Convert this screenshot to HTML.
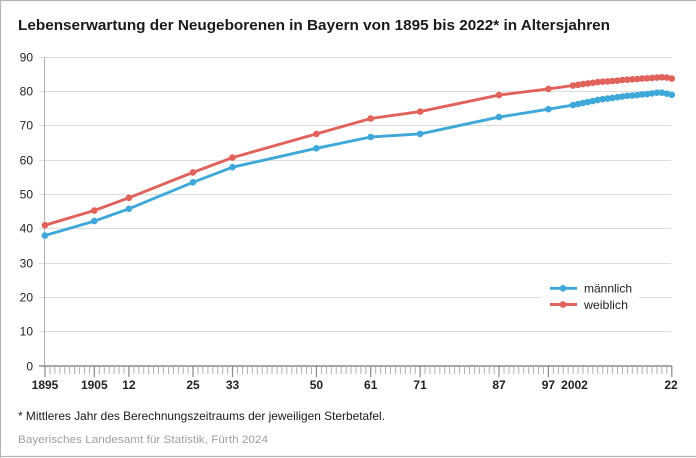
<!DOCTYPE html>
<html><head><meta charset="utf-8"><style>
html,body{margin:0;padding:0;background:#fff;}
svg{display:block;}
text{font-family:"Liberation Sans",Arial,sans-serif;}
</style></head><body>
<svg width="696" height="458" viewBox="0 0 696 458" xmlns="http://www.w3.org/2000/svg">
<rect x="0" y="0" width="696" height="458" fill="#fff"/>
<path d="M0.5,458 V0.5 H696 M0,456.5 H696" fill="none" stroke="#b5b5b5" stroke-width="1.2"/>
<text x="18" y="30" font-size="15" font-weight="bold" fill="#1a1a1a" textLength="592" lengthAdjust="spacingAndGlyphs">Lebenserwartung der Neugeborenen in Bayern von 1895 bis 2022* in Altersjahren</text>
<g stroke="#dcdcdc" stroke-width="1">
<line x1="39" y1="57.5" x2="671" y2="57.5"/>
<line x1="39" y1="91.5" x2="671" y2="91.5"/>
<line x1="39" y1="125.5" x2="671" y2="125.5"/>
<line x1="39" y1="160.5" x2="671" y2="160.5"/>
<line x1="39" y1="194.5" x2="671" y2="194.5"/>
<line x1="39" y1="228.5" x2="671" y2="228.5"/>
<line x1="39" y1="263.5" x2="671" y2="263.5"/>
<line x1="39" y1="297.5" x2="671" y2="297.5"/>
<line x1="39" y1="331.5" x2="671" y2="331.5"/>
</g>
<line x1="44.5" y1="57" x2="44.5" y2="366" stroke="#b0b0b0" stroke-width="1"/>
<g font-size="12" fill="#222" text-anchor="end">
<text x="33" y="61.5">90</text>
<text x="33" y="95.5">80</text>
<text x="33" y="129.5">70</text>
<text x="33" y="164.5">60</text>
<text x="33" y="198.5">50</text>
<text x="33" y="232.5">40</text>
<text x="33" y="267.5">30</text>
<text x="33" y="301.5">20</text>
<text x="33" y="335.5">10</text>
<text x="33" y="370.5">0</text>
</g>
<line x1="39" y1="366" x2="672" y2="366" stroke="#8a8a8a" stroke-width="1.5"/>
<line x1="44.6" y1="370" x2="673" y2="370" stroke="#a8a8a8" stroke-width="8" stroke-dasharray="0.9 4.035"/>
<g stroke="#8a8a8a" stroke-width="1.2">
<line x1="45" y1="366" x2="45" y2="377"/>
<line x1="94.3" y1="366" x2="94.3" y2="377"/>
<line x1="128.9" y1="366" x2="128.9" y2="377"/>
<line x1="193" y1="366" x2="193" y2="377"/>
<line x1="232.5" y1="366" x2="232.5" y2="377"/>
<line x1="316.4" y1="366" x2="316.4" y2="377"/>
<line x1="370.7" y1="366" x2="370.7" y2="377"/>
<line x1="420.1" y1="366" x2="420.1" y2="377"/>
<line x1="499" y1="366" x2="499" y2="377"/>
<line x1="548.4" y1="366" x2="548.4" y2="377"/>
<line x1="671.8" y1="366" x2="671.8" y2="377"/>
</g>
<g font-size="12" font-weight="bold" fill="#222" text-anchor="middle">
<text x="45" y="389">1895</text>
<text x="94.3" y="389">1905</text>
<text x="128.9" y="389">12</text>
<text x="193" y="389">25</text>
<text x="232.5" y="389">33</text>
<text x="316.4" y="389">50</text>
<text x="370.7" y="389">61</text>
<text x="420.1" y="389">71</text>
<text x="499" y="389">87</text>
<text x="548.4" y="389">97</text>
<text x="574.5" y="389">2002</text>
<text x="671" y="389">22</text>
</g>
<rect x="541" y="280" width="98" height="34" fill="#fff"/>
<polyline fill="none" stroke="#e0625b" stroke-width="2.9" stroke-linejoin="round" points="45,225.2 94.3,210.5 128.9,197.8 193,172.4 232.5,157.6 316.4,133.9 370.7,118.5 420.1,111.6 499,95.1 548.4,88.9 573,85.5 578,84.8 582.9,84.1 587.9,83.4 592.8,82.8 597.7,82.1 602.6,81.7 607.6,81.4 612.5,81 617.5,80.7 622.4,80 627.3,79.7 632.3,79.3 637.2,79 642.1,78.6 647.1,78.3 652,77.9 657,77.6 661.9,77.3 666.8,77.6 671.8,78.6"/>
<polyline fill="none" stroke="#3ea9d9" stroke-width="2.9" stroke-linejoin="round" points="45,235.5 94.3,221.1 128.9,208.8 193,182.3 232.5,167.2 316.4,148.3 370.7,137 420.1,133.9 499,117.1 548.4,109.2 573,105.1 578,104 582.9,103 587.9,102 592.8,101 597.7,99.9 602.6,99.2 607.6,98.6 612.5,97.9 617.5,97.2 622.4,96.5 627.3,95.8 632.3,95.5 637.2,95.1 642.1,94.4 647.1,94.1 652,93.4 657,92.7 661.9,92.7 666.8,93.7 671.8,94.8"/>
<g fill="#e0625b">
<circle cx="45" cy="225.2" r="3.3"/><circle cx="94.3" cy="210.5" r="3.3"/><circle cx="128.9" cy="197.8" r="3.3"/><circle cx="193" cy="172.4" r="3.3"/><circle cx="232.5" cy="157.6" r="3.3"/><circle cx="316.4" cy="133.9" r="3.3"/><circle cx="370.7" cy="118.5" r="3.3"/><circle cx="420.1" cy="111.6" r="3.3"/><circle cx="499" cy="95.1" r="3.3"/><circle cx="548.4" cy="88.9" r="3.3"/><circle cx="573" cy="85.5" r="3.3"/><circle cx="578" cy="84.8" r="3.3"/><circle cx="582.9" cy="84.1" r="3.3"/><circle cx="587.9" cy="83.4" r="3.3"/><circle cx="592.8" cy="82.8" r="3.3"/><circle cx="597.7" cy="82.1" r="3.3"/><circle cx="602.6" cy="81.7" r="3.3"/><circle cx="607.6" cy="81.4" r="3.3"/><circle cx="612.5" cy="81" r="3.3"/><circle cx="617.5" cy="80.7" r="3.3"/><circle cx="622.4" cy="80" r="3.3"/><circle cx="627.3" cy="79.7" r="3.3"/><circle cx="632.3" cy="79.3" r="3.3"/><circle cx="637.2" cy="79" r="3.3"/><circle cx="642.1" cy="78.6" r="3.3"/><circle cx="647.1" cy="78.3" r="3.3"/><circle cx="652" cy="77.9" r="3.3"/><circle cx="657" cy="77.6" r="3.3"/><circle cx="661.9" cy="77.3" r="3.3"/><circle cx="666.8" cy="77.6" r="3.3"/><circle cx="671.8" cy="78.6" r="3.3"/>
</g>
<g fill="#3ea9d9">
<circle cx="45" cy="235.5" r="3.3"/><circle cx="94.3" cy="221.1" r="3.3"/><circle cx="128.9" cy="208.8" r="3.3"/><circle cx="193" cy="182.3" r="3.3"/><circle cx="232.5" cy="167.2" r="3.3"/><circle cx="316.4" cy="148.3" r="3.3"/><circle cx="370.7" cy="137" r="3.3"/><circle cx="420.1" cy="133.9" r="3.3"/><circle cx="499" cy="117.1" r="3.3"/><circle cx="548.4" cy="109.2" r="3.3"/><circle cx="573" cy="105.1" r="3.3"/><circle cx="578" cy="104" r="3.3"/><circle cx="582.9" cy="103" r="3.3"/><circle cx="587.9" cy="102" r="3.3"/><circle cx="592.8" cy="101" r="3.3"/><circle cx="597.7" cy="99.9" r="3.3"/><circle cx="602.6" cy="99.2" r="3.3"/><circle cx="607.6" cy="98.6" r="3.3"/><circle cx="612.5" cy="97.9" r="3.3"/><circle cx="617.5" cy="97.2" r="3.3"/><circle cx="622.4" cy="96.5" r="3.3"/><circle cx="627.3" cy="95.8" r="3.3"/><circle cx="632.3" cy="95.5" r="3.3"/><circle cx="637.2" cy="95.1" r="3.3"/><circle cx="642.1" cy="94.4" r="3.3"/><circle cx="647.1" cy="94.1" r="3.3"/><circle cx="652" cy="93.4" r="3.3"/><circle cx="657" cy="92.7" r="3.3"/><circle cx="661.9" cy="92.7" r="3.3"/><circle cx="666.8" cy="93.7" r="3.3"/><circle cx="671.8" cy="94.8" r="3.3"/>
</g>
<line x1="550" y1="288.3" x2="577" y2="288.3" stroke="#3ea9d9" stroke-width="2.9"/>
<circle cx="563" cy="288.3" r="3.3" fill="#3ea9d9"/>
<line x1="550" y1="304.5" x2="577" y2="304.5" stroke="#e0625b" stroke-width="2.9"/>
<circle cx="563" cy="304.5" r="3.3" fill="#e0625b"/>
<g font-size="12" fill="#222">
<text x="584" y="292.5" textLength="48" lengthAdjust="spacingAndGlyphs">männlich</text>
<text x="584" y="309" textLength="44" lengthAdjust="spacingAndGlyphs">weiblich</text>
</g>
<text x="18" y="420" font-size="12" fill="#1a1a1a" textLength="367" lengthAdjust="spacingAndGlyphs">* Mittleres Jahr des Berechnungszeitraums der jeweiligen Sterbetafel.</text>
<text x="18" y="443" font-size="11" fill="#a0a0a0" textLength="250" lengthAdjust="spacingAndGlyphs">Bayerisches Landesamt für Statistik, Fürth 2024</text>
</svg>
</body></html>
